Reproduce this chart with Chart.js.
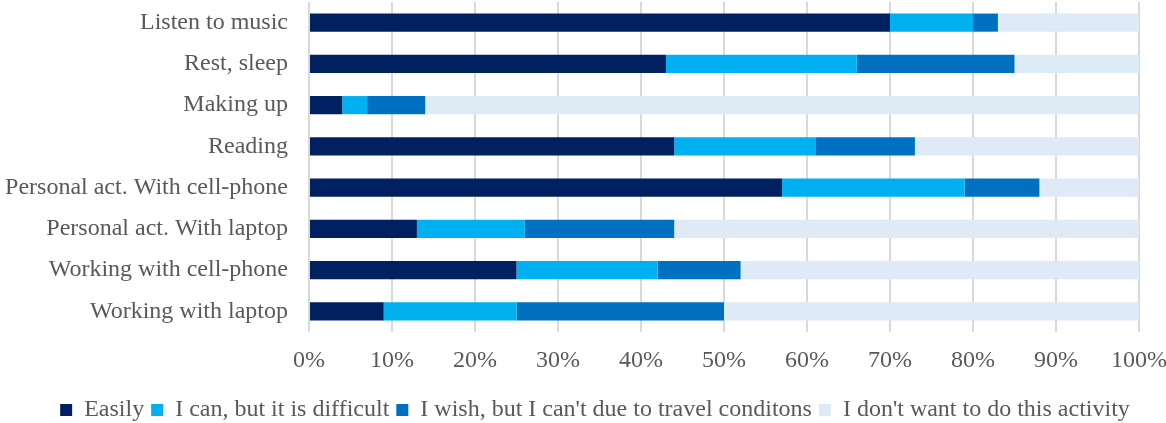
<!DOCTYPE html>
<html>
<head>
<meta charset="utf-8">
<script src="https://cdn.jsdelivr.net/npm/chart.js@4"></script>
<style>
  html, body { margin: 0; padding: 0; background: #fff; }
  #wrap { width: 1166px; height: 423px; }
</style>
</head>
<body>
<div id="wrap"><canvas id="chart" width="1166" height="423"></canvas></div>
<script>
const activities = ['Listen to music', 'Rest, sleep', 'Making up', 'Reading', 'Personal act. With cell-phone', 'Personal act. With laptop', 'Working with cell-phone', 'Working with laptop'];
const easily = [70, 43, 4, 44, 57, 13, 25, 9];
const canDifficult = [10, 23, 3, 17, 22, 13, 17, 16];
const wishCant = [3, 19, 7, 12, 9, 18, 10, 25];
const dontWant = [17, 15, 86, 27, 12, 56, 48, 50];
const seriesNames = ['Easily', 'I can, but it is difficult', "I wish, but I can't due to travel conditons", "I don't want to do this activity"];
const seriesColors = ['#002060', '#00B0F0', '#0070C0', '#DEEAF6'];

const font = 'Liberation Serif, Times New Roman, serif';
const textColor = '#595959';

// nudge the legend a bit to the right, like the original
const shiftLegend = {
  id: 'shiftLegend',
  afterLayout(c) {
    c.legend.left += 10;
    c.legend.right += 10;
  }
};

const chartCanvas = document.getElementById('chart');
const chart = new Chart(chartCanvas, {
  type: 'bar',
  data: {
    labels: activities,
    datasets: [easily, canDifficult, wishCant, dontWant].map((vals, i) => ({
      label: seriesNames[i],
      data: vals,
      backgroundColor: seriesColors[i],
      borderWidth: 0,
      barPercentage: 0.44,
      categoryPercentage: 1
    }))
  },
  options: {
    indexAxis: 'y',
    responsive: false,
    animation: false,
    layout: { padding: { top: 2, right: 0, left: 4, bottom: -9 } },
    scales: {
      x: {
        stacked: true,
        min: 0,
        max: 100,
        ticks: {
          stepSize: 10,
          maxRotation: 0,
          callback: v => v + '%',
          color: textColor,
          font: { family: font, size: 24 },
          padding: 14
        },
        grid: { color: '#d9d9d9', lineWidth: 2, drawTicks: false },
        border: { display: false },
        afterFit: s => { s.height = 59; s.paddingLeft = 0; s.paddingRight = 27; }
      },
      y: {
        stacked: true,
        ticks: {
          color: textColor,
          font: { family: font, size: 24 },
          padding: 21
        },
        grid: { display: false, drawTicks: false },
        border: { display: false },
        afterFit: s => { s.width = 305; s.paddingTop = 0; s.paddingBottom = 0; }
      }
    },
    plugins: {
      legend: {
        position: 'bottom',
        labels: {
          color: textColor,
          font: { family: font, size: 24 },
          boxWidth: 12,
          boxHeight: 12,
          padding: 7
        }
      },
      tooltip: { enabled: false }
    }
  },
  plugins: [shiftLegend]
});
</script>
</body>
</html>
